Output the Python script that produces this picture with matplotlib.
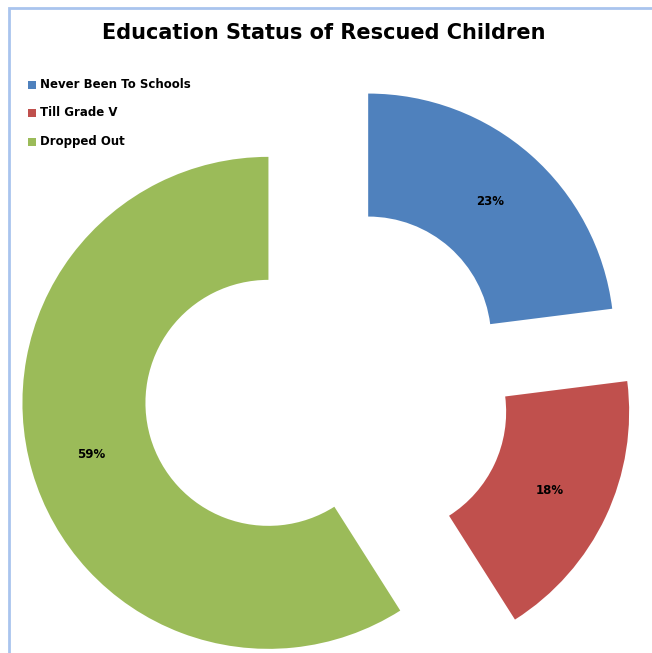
import matplotlib
matplotlib.use("Agg")
import matplotlib.pyplot as plt
from matplotlib.patches import Rectangle

# data
categories = ["Never Been To Schools", "Till Grade V", "Dropped Out"]
shares = [23, 18, 59]
colors = ["#4f81bd", "#c0504d", "#9bbb59"]

W, H = 652, 653
fig = plt.figure(figsize=(W / 100, H / 100), dpi=100)
fig.patch.set_facecolor("white")

# light blue frame, only top and left visible (image is cropped)
fig.patches.append(Rectangle((9 / W, -0.1), 1.2, (H - 8) / H + 0.1,
                             transform=fig.transFigure, fill=False,
                             edgecolor="#a9c4ee", linewidth=2))

# pie centre at (327.5, 385.7) px, outer radius 246 px
cx, cy, R = 327.5, 385.7, 246.0
ax = fig.add_axes([0, 0, 1, 1])
wedges, texts, autotexts = ax.pie(
    shares, colors=colors, startangle=90, counterclock=False,
    explode=[0.25] * 3, radius=1.0, autopct="%.0f%%", pctdistance=0.75,
    wedgeprops=dict(width=0.5, linewidth=0),
    textprops=dict(fontsize=8.5, fontweight="bold", color="black"))
ax.set_aspect("auto")
ax.set_xlim(-cx / R, (W - cx) / R)
ax.set_ylim(-(H - cy) / R, cy / R)
ax.axis("off")

fig.text(324 / W, 1 - 33 / H, "Education Status of Rescued Children",
         ha="center", va="center", fontsize=15, fontweight="bold")

leg_y = [85, 113, 142]
for name, c, y in zip(categories, colors, leg_y):
    fig.patches.append(Rectangle((28 / W, 1 - (y + 4) / H), 8 / W, 8 / H,
                                 transform=fig.transFigure, facecolor=c,
                                 edgecolor="none"))
    fig.text(40 / W, 1 - y / H, name, ha="left", va="center", fontsize=8.5,
             fontweight="bold")

fig.savefig("out.png", dpi=100)
